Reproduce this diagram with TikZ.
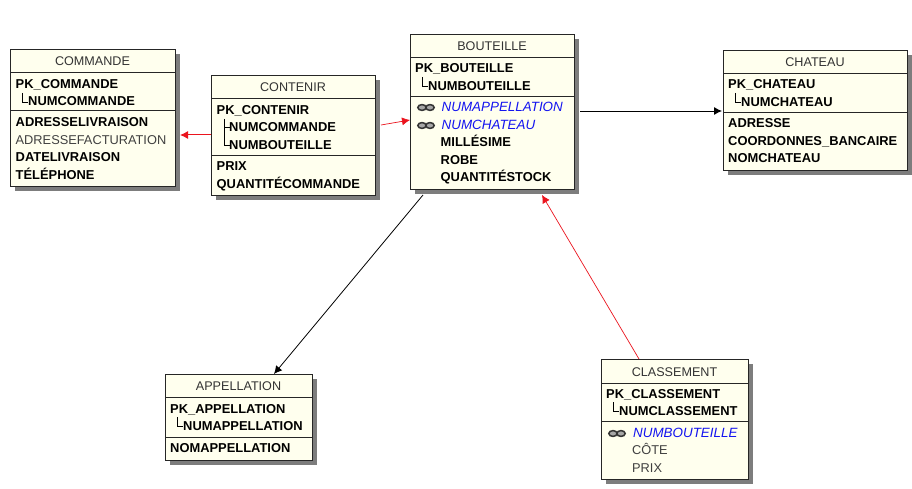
\documentclass[tikz,border=0pt]{standalone}
\usepackage{fontspec}
\setmainfont{Liberation Sans}
\usetikzlibrary{arrows.meta}
\definecolor{boxfill}{RGB}{255,255,238}
\definecolor{shadowc}{RGB}{125,125,125}
\definecolor{fkblue}{RGB}{20,20,240}
\definecolor{relred}{RGB}{235,20,30}
\tikzset{
  tbl/.style={draw=black!85,line width=1.2pt,fill=boxfill},
  shad/.style={fill=shadowc,draw=none},
  divider/.style={draw=black!85,line width=1pt},
  ttl/.style={font=\fontsize{12.6}{14}\selectfont,text=black!80,inner sep=0pt,text height=9pt,text depth=0pt},
  fld/.style={font=\fontsize{12.9}{14}\bfseries\selectfont,inner sep=0pt,anchor=west,text height=9pt,text depth=0pt},
  plainfld/.style={font=\fontsize{12.8}{14}\selectfont,text=black!75,inner sep=0pt,anchor=west,text height=9pt,text depth=0pt},
  fk/.style={font=\fontsize{13.4}{14}\itshape\selectfont,text=fkblue,inner sep=0pt,anchor=west,text height=9pt,text depth=0pt},
  pkline/.style={draw=black,line width=.8pt},
  redrel/.style={draw=relred,line width=.7pt,-{Latex[length=8pt,width=8pt]}},
  redthick/.style={draw=relred,line width=1pt,-{Latex[length=8pt,width=8pt]}},
  blackrel/.style={draw=black,line width=.8pt,-{Latex[length=8pt,width=8pt]}},
  blackthick/.style={draw=black,line width=.9pt,-{Latex[length=8pt,width=8pt]}},
}
% \tablebox{name}{x0}{y0}{x1}{y1}{sep1}{sep2}{title}
\newcommand{\tablebox}[8]{%
  \fill[shad] (#2+5,#3+5) rectangle (#4+5,#5+5);
  \node[tbl,minimum width=#4 pt-#2 pt,minimum height=#5 pt-#3 pt,inner sep=0pt,anchor=north west] (#1) at (#2,#3) {};
  \draw[divider] (#2,#6) -- (#4,#6);
  \draw[divider] (#2,#7) -- (#4,#7);
  \node[ttl] (#1t) at ({(#2+#4)/2},{(#3+#6)/2+.5}) {#8};
}
\newcommand{\linkat}[2]{%
  \draw[line width=1.5pt,draw=black!80,fill=black!35] (#1-4,#2) ellipse (4.2 and 2.9);
  \draw[line width=1.5pt,draw=black!80,fill=black!35] (#1+4,#2) ellipse (4.2 and 2.9);
}
\begin{document}
\begin{tikzpicture}[x=1pt,y=-1pt]
\useasboundingbox (0,0) rectangle (912,489);
\fill[white] (0,0) rectangle (912,489);

\coordinate (c1) at (211,135);
\coordinate (cmd) at (180,135);
\coordinate (c2) at (381,125);
\coordinate (bl) at (410,120);
\coordinate (b1) at (580,111);
\coordinate (ch) at (722,111);
\coordinate (b2) at (423,195);
\coordinate (ap) at (274,374);
\coordinate (cl) at (639,359);
\coordinate (b3) at (542,195);

\tablebox{commande}{10}{49}{175}{186}{72.7}{111}{COMMANDE}
\node[fld] (a1) at (15.5,84) {PK\_COMMANDE};
\node[fld] (a2) at (28,101.5) {NUMCOMMANDE};
\node[fld] (a3) at (15.5,122.5) {ADRESSELIVRAISON};
\node[plainfld] (a4) at (15.5,140) {ADRESSEFACTURATION};
\node[fld] (a5) at (15.5,157.5) {DATELIVRAISON};
\node[fld] (a6) at (15.5,175) {TÉLÉPHONE};
\draw[pkline] (22,93) -- (22,102) -- (28,102);

\tablebox{contenir}{211}{75}{375}{195}{99}{155.7}{CONTENIR}
\node[fld] (b1n) at (216.5,110) {PK\_CONTENIR};
\node[fld] (b2n) at (229,127.5) {NUMCOMMANDE};
\node[fld] (b3n) at (229,145) {NUMBOUTEILLE};
\node[fld] (b4n) at (216.5,166) {PRIX};
\node[fld] (b5n) at (216.5,184) {QUANTITÉCOMMANDE};
\draw[pkline] (224,119) -- (224,145) -- (230,145) (224,127) -- (230,127);

\tablebox{bouteille}{410}{34}{574}{189}{57.7}{96.3}{BOUTEILLE}
\node[fld] (c1n) at (415,68.5) {PK\_BOUTEILLE};
\node[fld] (c2n) at (428,86) {NUMBOUTEILLE};
\linkat{426}{107.5}
\node[fk] (c3n) at (441.5,107) {NUMAPPELLATION};
\linkat{426}{125.5}
\node[fk] (c4n) at (441.5,125) {NUMCHATEAU};
\node[fld] (c5n) at (440.5,142.5) {MILLÉSIME};
\node[fld] (c6n) at (440.5,160) {ROBE};
\node[fld] (c7n) at (440.5,177.5) {QUANTITÉSTOCK};
\draw[pkline] (422,77) -- (422,86) -- (428,86);

\tablebox{chateau}{723}{50}{907}{170}{74}{112.7}{CHATEAU}
\node[fld] (d1n) at (728,84.5) {PK\_CHATEAU};
\node[fld] (d2n) at (741,102) {NUMCHATEAU};
\node[fld] (d3n) at (728,123.5) {ADRESSE};
\node[fld] (d4n) at (728,141) {COORDONNES\_BANCAIRE};
\node[fld] (d5n) at (728,158.5) {NOMCHATEAU};
\draw[pkline] (735,93) -- (735,102) -- (741,102);

\tablebox{appellation}{165}{374}{312}{460}{397.7}{437.3}{APPELLATION}
\node[fld] (e1n) at (170,408.5) {PK\_APPELLATION};
\node[fld] (e2n) at (183,426) {NUMAPPELLATION};
\node[fld] (e3n) at (170,447.5) {NOMAPPELLATION};
\draw[pkline] (177,417) -- (177,426) -- (183,426);

\tablebox{classement}{601}{359}{748}{479}{383}{421.5}{CLASSEMENT}
\node[fld] (f1n) at (606,393.5) {PK\_CLASSEMENT};
\node[fld] (f2n) at (619,411) {NUMCLASSEMENT};
\linkat{617}{433.5}
\node[fk] (f3n) at (633,432.5) {NUMBOUTEILLE};
\node[plainfld] (f4n) at (632,450) {CÔTE};
\node[plainfld] (f5n) at (632,467.5) {PRIX};
\draw[pkline] (613,402) -- (613,411) -- (619,411);

\draw[redthick] (c1) -- (cmd);
\draw[redrel] (c2) -- (bl);
\draw[blackthick] (b1) -- (ch);
\draw[blackrel] (b2) -- (ap);
\draw[redrel] (cl) -- (b3);
\end{tikzpicture}
\end{document}
